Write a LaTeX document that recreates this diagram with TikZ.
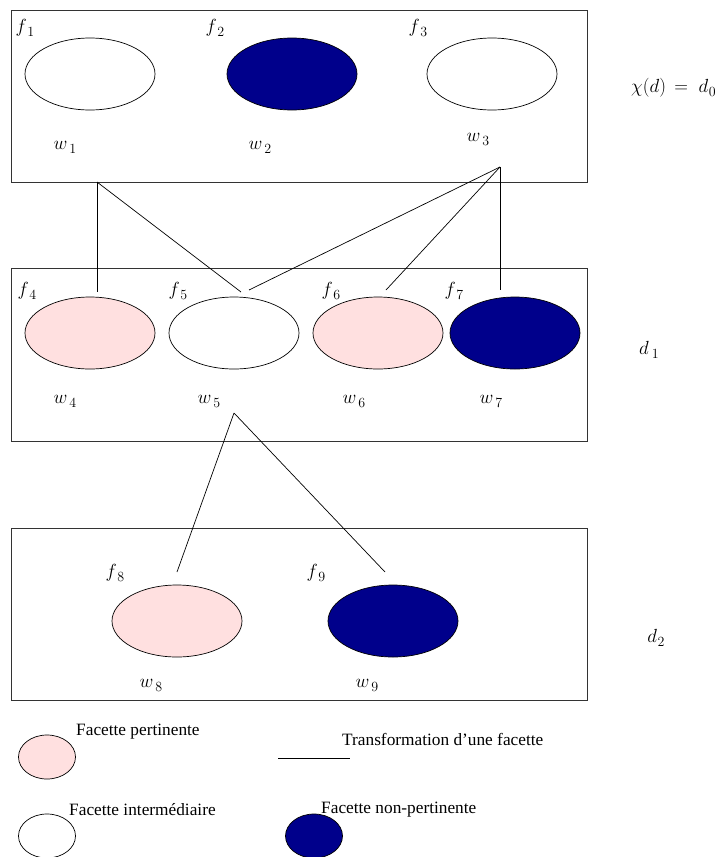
\RequirePackage{fix-cm}
\documentclass[tikz,border=0pt]{standalone}
\usepackage[no-math]{fontspec}
\setmainfont{Liberation Serif}
\usetikzlibrary{shapes.geometric}
\definecolor{navyf}{RGB}{0,0,139}
\definecolor{pinkf}{RGB}{255,224,224}
\newcommand{\lbsub}[3]{$#1$\kern#3\raisebox{-4pt}{\fontsize{14}{16}\selectfont$#2$}}
\newcommand{\fl}[1]{\lbsub{f}{#1}{0.5pt}}
\newcommand{\wl}[1]{\lbsub{w}{#1}{2pt}}
\begin{document}
\begin{tikzpicture}[x=1pt,y=-1pt,
  facet/.style={ellipse,draw=black,line width=0.7pt,minimum width=130pt,minimum height=72pt,inner sep=0pt},
  small/.style={ellipse,draw=black,line width=0.7pt,minimum width=57pt,minimum height=44pt,inner sep=0pt},
  rel/.style={fill=pinkf},
  inter/.style={fill=white},
  nonrel/.style={fill=navyf},
  frame/.style={draw=black!80,line width=0.8pt},
  lab/.style={inner sep=0pt,font=\fontsize{19}{22}\selectfont},
  legtxt/.style={inner sep=0pt,anchor=west,font=\fontsize{17.3}{20}\selectfont},
  link/.style={draw=black,line width=0.7pt}]
\useasboundingbox (0,0) rectangle (723,857);
% frames
\draw[frame] (11,10) rectangle (587,182);
\draw[frame] (11,268) rectangle (587,441);
\draw[frame] (11,528) rectangle (587,700);
% row 1
\node[facet,inter] (e1) at (90,74) {};
\node[facet,nonrel] (e2) at (292,74) {};
\node[facet,inter] (e3) at (492,74) {};
\node[lab] (f1) at (25,28) {\fl{1}};
\node[lab] (f2) at (215,28) {\fl{2}};
\node[lab] (f3) at (418,28) {\fl{3}};
\node[lab] (w1) at (65,147) {\wl{1}};
\node[lab] (w2) at (260,147) {\wl{2}};
\node[lab] (w3) at (478,139) {\wl{3}};
\node[lab,anchor=west] (d0) at (631,88) {$\chi(d)\,=\;d$\kern0.5pt\raisebox{-4pt}{\fontsize{14}{16}\selectfont$0$}};
% row 2
\node[facet,rel] (e4) at (90,333) {};
\node[facet,inter] (e5) at (234,333) {};
\node[facet,rel] (e6) at (378,333) {};
\node[facet,nonrel] (e7) at (515,333) {};
\node[lab] (f4) at (27,291) {\fl{4}};
\node[lab] (f5) at (178,291) {\fl{5}};
\node[lab] (f6) at (331,291) {\fl{6}};
\node[lab] (f7) at (454,291) {\fl{7}};
\node[lab] (w4) at (65,401) {\wl{4}};
\node[lab] (w5) at (209,401) {\wl{5}};
\node[lab] (w6) at (354,401) {\wl{6}};
\node[lab] (w7) at (491,401) {\wl{7}};
\node[lab] (d1) at (649,350) {\lbsub{d}{1}{3pt}};
% row 3
\node[facet,rel] (e8) at (177,621) {};
\node[facet,nonrel] (e9) at (393,621) {};
\node[lab] (f8) at (115,573) {\fl{8}};
\node[lab] (f9) at (316,573) {\fl{9}};
\node[lab] (w8) at (151,685) {\wl{8}};
\node[lab] (w9) at (367,685) {\wl{9}};
\node[lab] (d2) at (656,638) {\lbsub{d}{2}{0.5pt}};
% connector points
\coordinate (s1) at (97,182);
\coordinate (s3) at (500,167);
\coordinate (t4) at (97,292);
\coordinate (t5a) at (241,292);
\coordinate (t5b) at (249,290);
\coordinate (t6) at (386,290);
\coordinate (t7) at (500,290);
\coordinate (s5) at (234,413);
\coordinate (t8) at (177,572);
\coordinate (t9) at (385,572);
\draw[link] (s1) -- (t4);
\draw[link] (s1) -- (t5a);
\draw[link] (s3) -- (t5b);
\draw[link] (s3) -- (t6);
\draw[link] (s3) -- (t7);
\draw[link] (s5) -- (t8);
\draw[link] (s5) -- (t9);
% legend
\node[small,rel] (l1) at (47,757) {};
\node[legtxt] (l1t) at (76,732) {Facette pertinente};
\coordinate (la) at (278,758);
\coordinate (lb) at (350,758);
\draw[link] (la) -- (lb);
\node[legtxt] (l2t) at (342,739) {Transformation d’une facette};
\node[small,inter] (l3) at (47,836) {};
\node[legtxt] (l3t) at (69,810) {Facette intermédiaire};
\node[small,nonrel] (l4) at (314,836) {};
\node[legtxt] (l4t) at (321,810) {Facette non-pertinente};
\end{tikzpicture}
\end{document}
